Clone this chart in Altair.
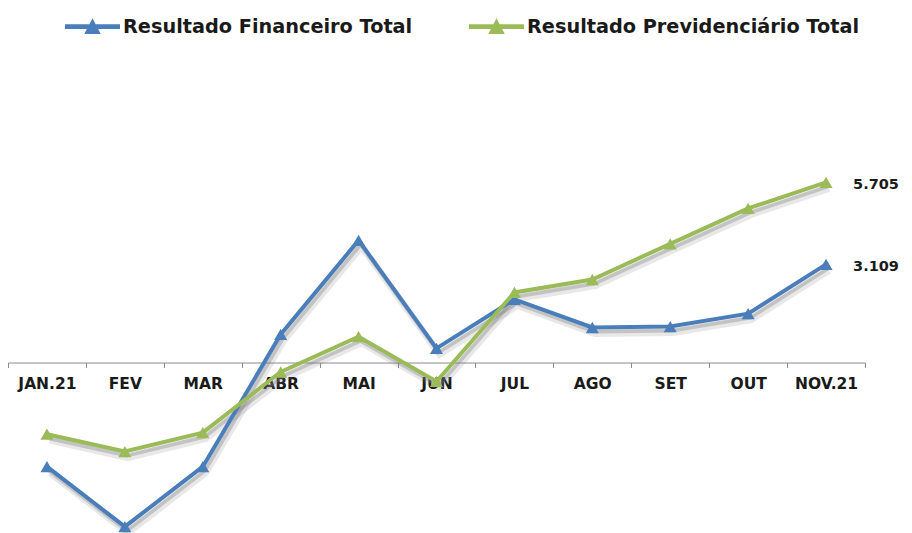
import altair as alt
import pandas as pd

meses = ["JAN.21", "FEV", "MAR", "ABR", "MAI", "JUN", "JUL", "AGO", "SET", "OUT", "NOV.21"]
financeiro = [-3.30, -5.20, -3.30, 0.89, 3.87, 0.45, 2.00, 1.11, 1.14, 1.55, 3.109]
previdenciario = [-2.27, -2.82, -2.22, -0.30, 0.82, -0.60, 2.22, 2.63, 3.76, 4.88, 5.705]
series = ["Resultado Financeiro Total", "Resultado Previdenciário Total"]
cores = ["#4A7EBB", "#9BBB59"]
rotulos_finais = ["3.109", "5.705"]

rows = []
for s, vals in zip(series, [financeiro, previdenciario]):
    for m, v in zip(meses, vals):
        rows.append({"mes": m, "serie": s, "valor": v})
df = pd.DataFrame(rows)
df_fim = pd.DataFrame({
    "mes": [meses[-1]] * 2,
    "serie": series,
    "valor": [financeiro[-1], previdenciario[-1]],
    "rotulo": rotulos_finais,
})

ymin, ymax = -5.4, 9.9
W, H = 857, 483
zero_px = H * ymax / (ymax - ymin)
FONT = "DejaVu Sans, Verdana, sans-serif"

x_enc = alt.X("mes:N", sort=meses,
              scale=alt.Scale(type="band", paddingInner=0, paddingOuter=0),
              axis=alt.Axis(title=None, orient="bottom", offset=-(H - zero_px), grid=False,
                            domainColor="#8c8c8c", tickColor="#8c8c8c", tickSize=5,
                            tickBand="extent", labelAngle=0,
                            labelFont=FONT, labelFontWeight="bold", labelFontSize=15.5,
                            labelColor="#1a1a1a", labelPadding=9))
y_enc = alt.Y("valor:Q", scale=alt.Scale(domain=[ymin, ymax], nice=False, zero=False), axis=None)

legend_path = "M-1,-0.09H1V0.09H-1Z M-0.3,0.27L0,-0.3L0.3,0.27Z"
legend = alt.Legend(title=None, orient="none", direction="horizontal",
                    legendX=57, legendY=-51, padding=0,
                    symbolType=legend_path, symbolSize=3025,
                    symbolStrokeWidth=0, symbolOpacity=1,
                    labelFont=FONT, labelFontWeight="bold", labelFontSize=19.3,
                    labelColor="#1a1a1a", labelLimit=400,
                    labelOffset=3, columnPadding=56)
color_enc = alt.Color("serie:N", scale=alt.Scale(domain=series, range=cores), legend=legend)

base = alt.Chart(df)

shadow1 = base.mark_line(color="#7f7f7f", strokeWidth=7, opacity=0.18, xOffset=3, yOffset=6).encode(
    x=x_enc, y=y_enc, detail="serie:N")
shadow2 = base.mark_line(color="#7f7f7f", strokeWidth=4, opacity=0.35, xOffset=2, yOffset=4).encode(
    x=x_enc, y=y_enc, detail="serie:N")
lines = base.mark_line(strokeWidth=4).encode(x=x_enc, y=y_enc, color=color_enc)
points = base.mark_point(shape="triangle-up", filled=True, size=170, opacity=1).encode(
    x=x_enc, y=y_enc, color=color_enc)
labels = alt.Chart(df_fim).mark_text(align="left", baseline="middle", dx=27, dy=3,
                                     font=FONT, fontWeight="bold", fontSize=14.5,
                                     color="#1a1a1a").encode(
    x=x_enc, y=y_enc, text="rotulo:N")

chart = alt.layer(shadow1, shadow2, lines, points, labels).properties(
    width=W, height=H,
    autosize=alt.AutoSizeParams(type="none"),
    padding={"left": 0, "top": 42, "right": 36, "bottom": 0},
).configure_view(stroke=None)

chart.save("out.html", embed_options={"renderer": "svg", "actions": False})
